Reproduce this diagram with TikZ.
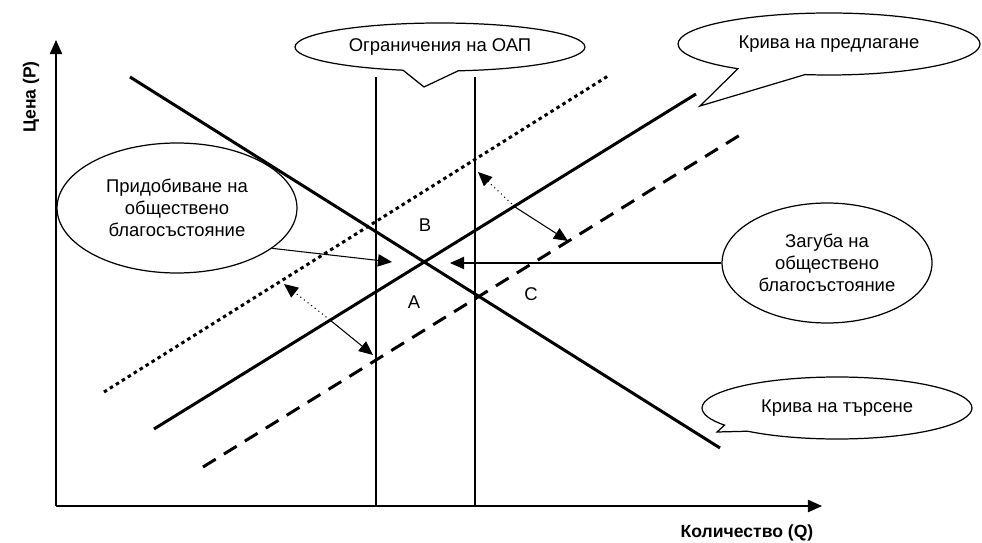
\documentclass[tikz,border=0pt]{standalone}
\usepackage{fontspec}
\setmainfont{Liberation Sans}
\usetikzlibrary{arrows.meta,shapes.geometric,shapes.callouts}
\begin{document}
\begin{tikzpicture}[x=0.02cm, y=-0.02cm,
    curve/.style={line width=1.7pt},
    axis/.style={line width=0.85pt, -{Triangle[length=8pt,width=7pt]}},
    pointer/.style={line width=0.6pt, -{Triangle[length=8pt,width=7pt]}},
    bubble/.style={draw, line width=0.7pt, inner sep=0pt, align=center, font=\fontsize{10.5}{12.5}\selectfont},
    letter/.style={font=\fontsize{10.5}{12.5}\selectfont},
    title/.style={font=\bfseries\fontsize{10}{12}\selectfont}]

    \useasboundingbox (0,0) rectangle (982,543);

    \coordinate (O) at (56,506);
    \coordinate (Ptop) at (56,40);
    \coordinate (Qend) at (822,506);

    \coordinate (d1) at (130,77);
    \coordinate (d2) at (720,448);
    \coordinate (s1) at (154,429);
    \coordinate (s2) at (696,94);
    \coordinate (u1) at (104,392);
    \coordinate (u2) at (608,76);
    \coordinate (l1) at (203,467);
    \coordinate (l2) at (740,135);
    \coordinate (v1) at (376,77);
    \coordinate (v1b) at (376,506);
    \coordinate (v2) at (475,77);
    \coordinate (v2b) at (475,506);

    \coordinate (gainTip) at (392,262);
    \coordinate (lossTip) at (450,263);
    \coordinate (j1) at (330,320);
    \coordinate (j1a) at (284,284);
    \coordinate (j1b) at (373,355);
    \coordinate (j2) at (515,207);
    \coordinate (j2a) at (478,172);
    \coordinate (j2b) at (568,241);

    \path [axis] (O) edge (Ptop);
    \path [axis] (O) edge (Qend);

    \node[title, rotate=90] (P) at (31,97) {Цена (P)};
    \node[title] (Q) at (747,533) {Количество (Q)};

    \path [curve] (d1) edge (d2);
    \path [curve] (s1) edge (s2);
    \path [curve, dash pattern=on 2pt off 2pt] (u1) edge (u2);
    \path [curve, dash pattern=on 8.5pt off 5.5pt] (l1) edge (l2);
    \path [curve, line width=1.6pt] (v1) edge (v1b);
    \path [curve, line width=1.6pt] (v2) edge (v2b);

    \node[bubble, ellipse callout, minimum width=5.8cm, minimum height=0.96cm, callout pointer arc=22,
        callout absolute pointer={(424,87)}] (limit) at (440,47) {Ограничения на ОАП};
    \node[bubble, ellipse callout, minimum width=6.04cm, minimum height=1.24cm, callout pointer arc=28,
        callout absolute pointer={(700,106)}] (supply) at (829,44) {Крива на предлагане};
    \node[bubble, ellipse callout, minimum width=5.4cm, minimum height=1.24cm,
        callout absolute pointer={(717,432)}] (demand) at (837,408) {Крива на търсене};
    \node[bubble, ellipse, minimum width=4.8cm, minimum height=2.6cm] (gain) at (177,208)
        {Придобиване на\\обществено\\благосъстояние};
    \node[bubble, ellipse, minimum width=4.2cm, minimum height=2.4cm] (loss) at (827,263)
        {Загуба на\\обществено\\благосъстояние};

    \path [pointer] (gain.-23) edge (gainTip);
    \path [pointer] (loss.west) edge (lossTip);

    \path [pointer, dotted] (j1) edge (j1a);
    \path [pointer] (j1) edge (j1b);
    \path [pointer, dotted] (j2) edge (j2a);
    \path [pointer] (j2) edge (j2b);

    \node[letter] (B) at (425,225) {B};
    \node[letter] (A) at (414,302) {A};
    \node[letter] (C) at (531,294) {C};

\end{tikzpicture}
\end{document}
